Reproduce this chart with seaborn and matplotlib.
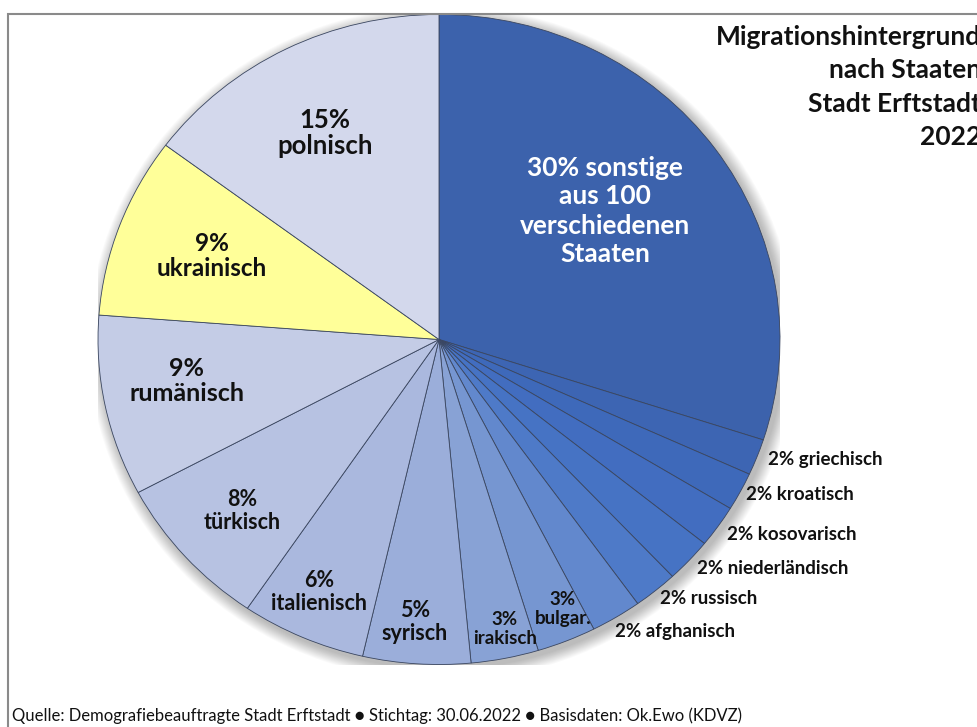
import matplotlib
matplotlib.use("Agg")
import matplotlib.pyplot as plt
from matplotlib.patches import Rectangle, Circle
import seaborn as sns

# Anteile je Staatsangehörigkeit (Prozent), Reihenfolge im Uhrzeigersinn ab 12 Uhr
staaten = ["sonstige", "griechisch", "kroatisch", "kosovarisch", "niederländisch",
           "russisch", "afghanisch", "bulgar.", "irakisch", "syrisch", "italienisch",
           "türkisch", "rumänisch", "ukrainisch", "polnisch"]
anteile = [30.0, 1.8, 1.9, 2.1, 2.2, 2.1, 2.4, 2.8, 3.2, 5.1, 5.9, 7.7, 9.0, 9.0, 14.8]

titel = ["Migrationshintergrund", "nach Staaten", "Stadt Erftstadt", "2022"]
quelle = ("Quelle: Demografiebeauftragte Stadt Erftstadt \u25cf Stichtag: 30.06.2022 "
          "\u25cf Basisdaten: Ok.Ewo (KDVZ)")

W, H = 978, 727
sns.set_theme(style="white")
plt.rcParams["font.family"] = ["Lato", "DejaVu Sans"]

# Blauverlauf für die ersten 13 Staaten, dann gelb (ukrainisch) und hell (polnisch)
blau = sns.blend_palette(["#3C62AC", "#3F6ABD", "#4A77C7", "#7A99D2",
                          "#A5B4DC", "#C4CCE6"], 13)
farben = list(blau) + ["#FFFF99", "#D3D8EC"]

fig = plt.figure(figsize=(W / 100, H / 100), dpi=100)

# Kreisdiagramm (leicht in die Breite gezogen)
cx, cy, rx, ry = 439, 339.5, 341, 325
pie_ax = fig.add_axes([(cx - rx) / W, (H - cy - ry) / H, 2 * rx / W, 2 * ry / H])

# weicher Schatten unter dem Kreis
for i in range(14):
    pie_ax.add_patch(Circle((0.01, -0.012), 1.003 + i * 0.0027, color="#000000",
                            alpha=0.018, lw=0, zorder=0))

wedges, _ = pie_ax.pie(anteile, colors=farben, startangle=90, counterclock=False,
                       radius=1,
                       wedgeprops=dict(edgecolor="#3A4660", linewidth=0.6))
for w in wedges:
    w.set_zorder(2)
pie_ax.set_aspect("auto")
pie_ax.set_xlim(-1, 1)
pie_ax.set_ylim(-1, 1)
pie_ax.axis("off")

# Textebene in Pixelkoordinaten (oben links = 0, 0)
ax = fig.add_axes([0, 0, 1, 1])
ax.set_xlim(0, W)
ax.set_ylim(H, 0)
ax.axis("off")

pct = [f"{v:.0f}%" for v in anteile]

# Beschriftung im großen Segment
ax.text(605, 211, f"{pct[0]} sonstige\naus 100\nverschiedenen\nStaaten",
        color="white", fontsize=19, fontweight="bold", ha="center", va="center",
        linespacing=1.25, zorder=5)

# Beschriftungen innerhalb der Segmente
innen = {"polnisch": (325, 133, 18.5), "ukrainisch": (212, 256, 17.5),
         "rumänisch": (187, 381, 18), "türkisch": (242, 511, 15.5),
         "italienisch": (319, 592, 15.5), "syrisch": (415, 622, 15.5),
         "irakisch": (505, 629, 13.5), "bulgar.": (563, 609, 13.5)}
for name, (x, y, fs) in innen.items():
    i = staaten.index(name)
    ax.text(x, y, f"{pct[i]}\n{name}", fontsize=fs, fontweight="bold",
            ha="center", va="center", color="#111111", linespacing=1.15, zorder=5)

# Beschriftungen außerhalb der kleinen Segmente
aussen = {"griechisch": (768, 459), "kroatisch": (746, 494),
          "kosovarisch": (727, 535), "niederländisch": (697, 568),
          "russisch": (660, 598), "afghanisch": (615, 631)}
for name, (x, y) in aussen.items():
    i = staaten.index(name)
    ax.text(x, y, f"{pct[i]} {name}", fontsize=13.5, fontweight="bold",
            ha="left", va="center", color="#111111", zorder=5)

# Titel rechts oben, rechtsbündig
for k, zeile in enumerate(titel):
    ax.text(981, 37 + k * 33.3, zeile, fontsize=19, fontweight="bold",
            ha="right", va="center", color="#111111", zorder=5, clip_on=False)

# Quellenangabe
ax.text(12, 716, quelle, fontsize=12, ha="left", va="center", color="#111111")

# Rahmen
fig.patches.append(Rectangle((8 / W, -0.1), 1.2, 1.1 - 14 / H, transform=fig.transFigure,
                             fill=False, edgecolor="#8A8A8A", linewidth=1.5))

fig.savefig("out.png", dpi=100)
